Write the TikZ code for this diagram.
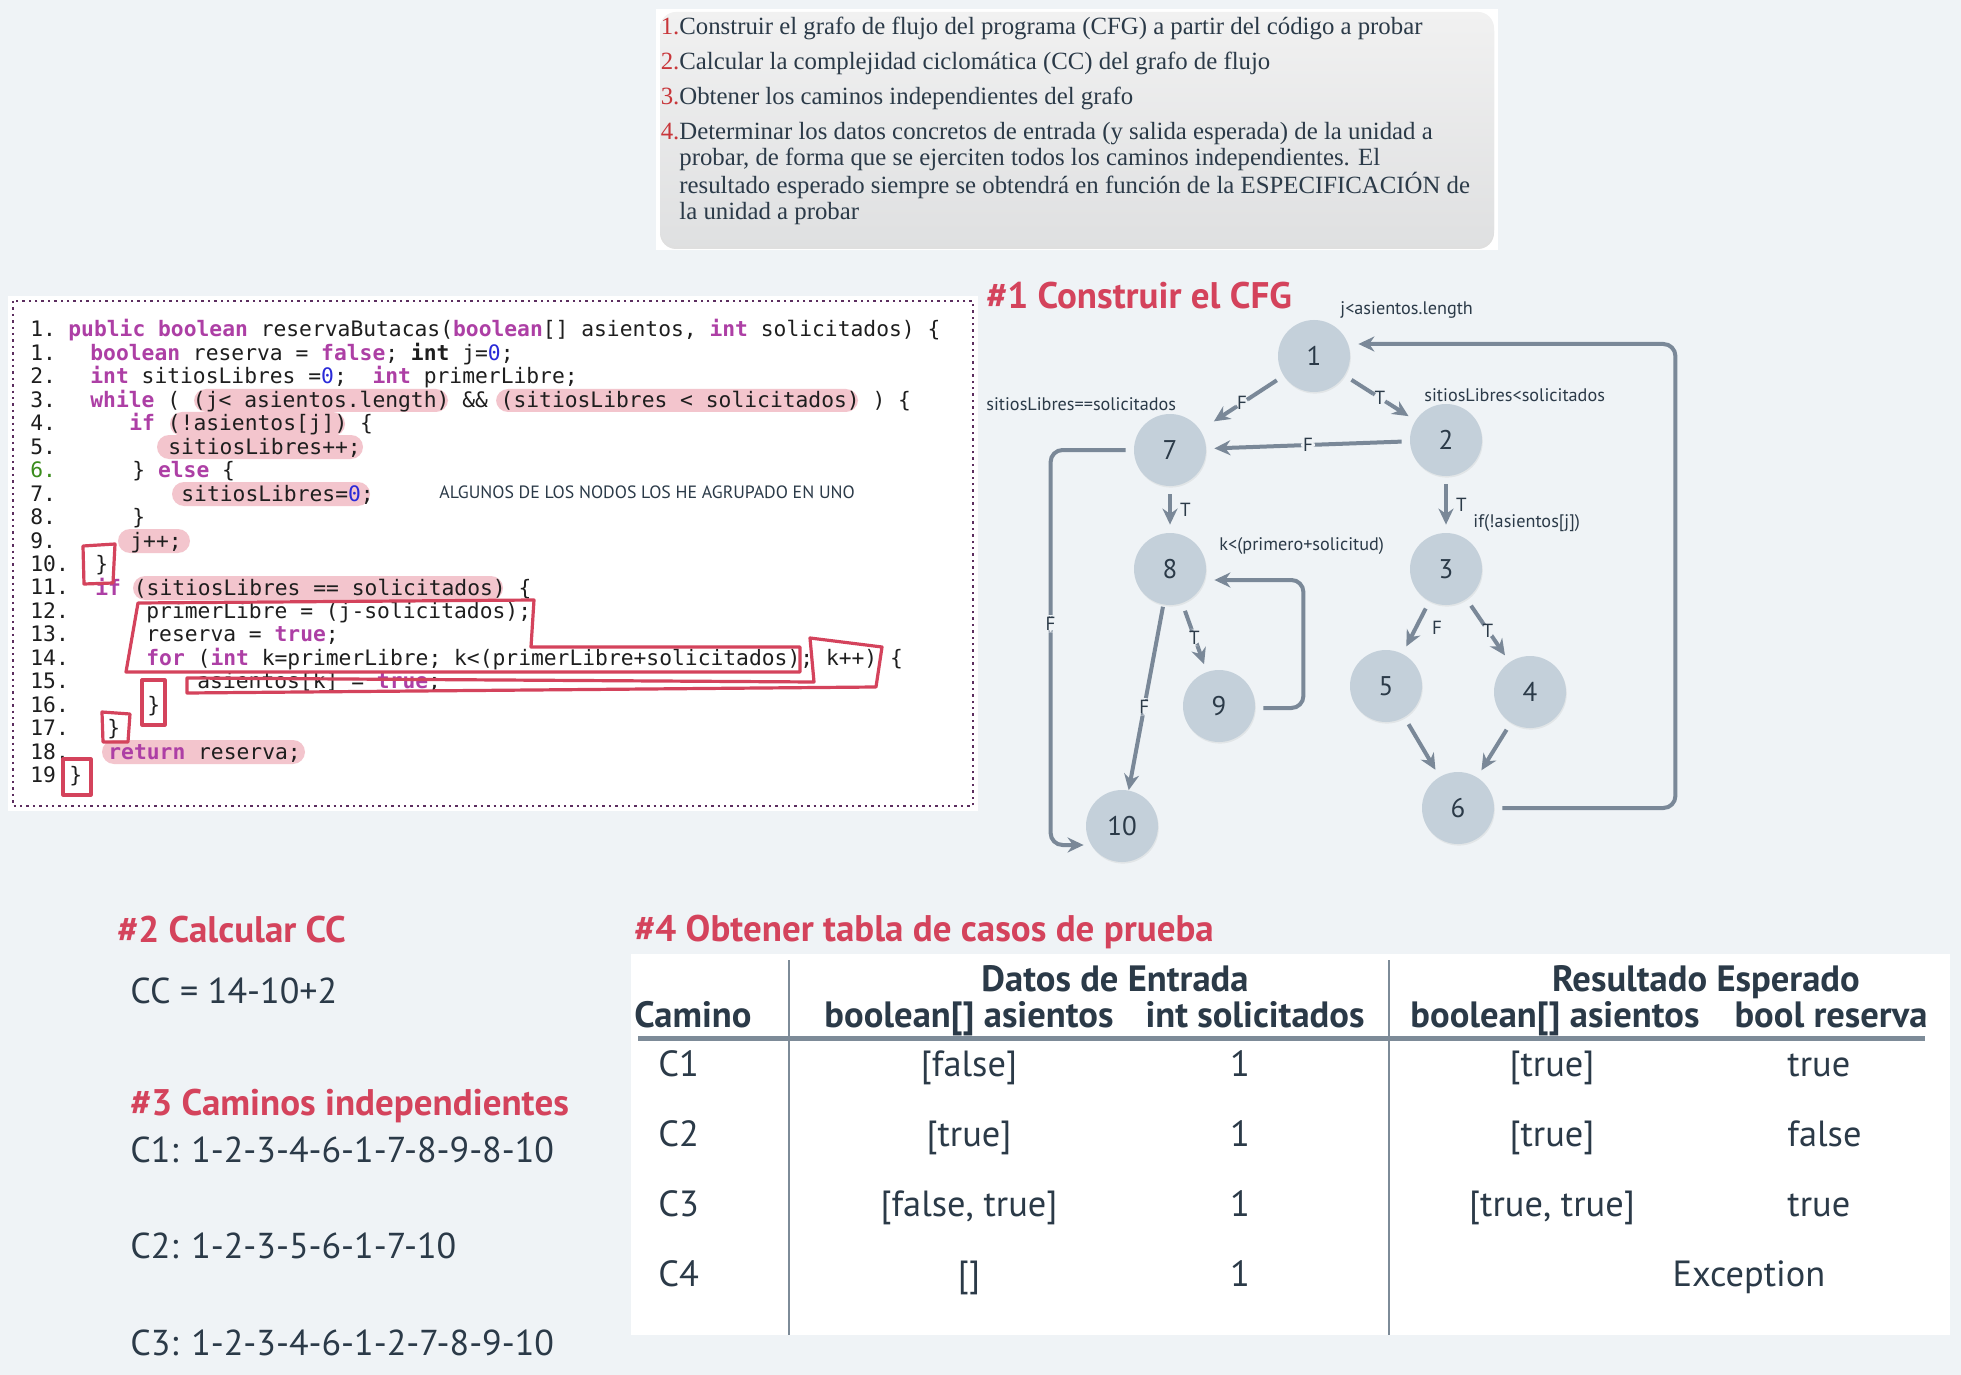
\documentclass[tikz,border=0pt]{standalone}
\usepackage{fontspec}
\setmainfont{Liberation Serif}
\setmonofont{DejaVu Sans Mono}
\newfontfamily\dinfont{PT Sans}
\usetikzlibrary{arrows.meta, positioning, shadows}
\definecolor{Fondo}{HTML}{EFF3F6}
\definecolor{NodoGris}{HTML}{C4D0DA}
\definecolor{Arista}{HTML}{7A8898}
\definecolor{Tinta}{HTML}{2B3A48}
\definecolor{Rojo}{HTML}{D4435C}
\definecolor{Resalte}{HTML}{F3C5CD}
\definecolor{Morado}{HTML}{AD3FA5}
\definecolor{AzulNum}{HTML}{2A2AD8}
\definecolor{VerdeNum}{HTML}{3A8C1C}
\definecolor{CodNegro}{HTML}{1E1E1E}
\definecolor{Punteado}{HTML}{5B2D5E}
\definecolor{Reja}{HTML}{7D8B98}
\definecolor{PasoNum}{HTML}{C8363A}
\definecolor{GrisClaro}{HTML}{F1F1F1}
\definecolor{GrisOscuro}{HTML}{DFE0E1}
\newcommand{\kw}[1]{\textcolor{Morado}{\bfseries #1}}
\newcommand{\codnum}[1]{\textcolor{AzulNum}{#1}}
\newcommand{\pasonum}[1]{\llap{\textcolor{PasoNum}{#1}}}

\begin{document}
\begin{tikzpicture}[
  x=0.5pt, y=-0.5pt,
  nodo/.style={circle, fill=NodoGris, minimum size=36pt, inner sep=0pt, text=Tinta,
              font=\dinfont\fontsize{13.5}{14}\selectfont,
              drop shadow={opacity=0.12, shadow xshift=0.4pt, shadow yshift=-0.8pt}},
  flecha/.style={draw=Arista, line width=2pt, -{Stealth[length=8pt, width=7.5pt]},
              shorten <=4pt, shorten >=4pt, rounded corners=6pt},
  etq/.style={font=\dinfont\fontsize{9.5}{10}\selectfont, text=Tinta, fill=Fondo, inner sep=1pt},
  cond/.style={font=\dinfont\fontsize{9.1}{10}\selectfont, text=Tinta, anchor=west, inner sep=0pt},
  codigo/.style={font=\ttfamily\fontsize{10.65}{12}\selectfont, text=CodNegro, anchor=base west, inner sep=0pt},
  marca/.style={fill=Resalte, rounded corners=6pt},
  trazo/.style={draw=Rojo, line width=1.6pt, line join=round},
  titulo/.style={font=\dinfont\bfseries\fontsize{18.5}{19}\selectfont, text=Rojo, anchor=base west, inner sep=0pt},
  texto/.style={font=\dinfont\fontsize{18}{18}\selectfont, text=Tinta, anchor=base west, inner sep=0pt},
  celda/.style={font=\dinfont\fontsize{18.2}{18}\selectfont, text=Tinta, anchor=base, inner sep=0pt},
  cabecera/.style={celda, font=\dinfont\bfseries\fontsize{18.3}{18}\selectfont},
  paso/.style={font=\rmfamily\fontsize{12.4}{13}\selectfont, text=Tinta, anchor=base west, inner sep=0pt, align=left},
  cajapasos/.style={rounded corners=8pt, minimum width=417pt, minimum height=117pt,
              top color=GrisClaro, bottom color=GrisOscuro,
              drop shadow={opacity=0.25, shadow xshift=0pt, shadow yshift=-1.5pt}}]
\useasboundingbox (0,0) rectangle (1961,1375);
\fill[Fondo] (0,0) rectangle (1961,1375);

% pasos
\fill[white] (656,9) rectangle (1498,250);
\node[cajapasos] (pasos) at (1077,129) {};
\node[paso] (p1) at (679,35) {\pasonum{1.}Construir el grafo de flujo del programa (CFG) a partir del código a probar};
\node[paso] (p2) at (679,70) {\pasonum{2.}Calcular la complejidad ciclomática (CC) del grafo de flujo};
\node[paso] (p3) at (679,105) {\pasonum{3.}Obtener los caminos independientes del grafo};
% base = ultima linea
\node[paso] (p4) at (679,220) {\pasonum{4.}Determinar los datos concretos de entrada (y salida esperada) de la unidad a\\
  probar, de forma que se ejerciten todos los caminos independientes. El\\
  resultado esperado siempre se obtendrá en función de la ESPECIFICACIÓN de\\
  la unidad a probar};

% codigo
\fill[white] (8,296) rectangle (978,811);
\draw[Punteado, dotted, line width=1.2pt] (13,301) rectangle (973,806);
\fill[marca] (194,389) rectangle (448,412);
\fill[marca] (496,389) rectangle (858,412);
\fill[marca] (170,412) rectangle (345,436);
\fill[marca] (157,435) rectangle (363,459);
\fill[marca] (172,482) rectangle (370,506);
\fill[marca] (118,529) rectangle (190,553);
\fill[marca] (133,576) rectangle (503,600);
\fill[marca] (102,740) rectangle (305,764);
\foreach \n [count=\i from 0] in {1,1,2,3,4,5,6,7,8,9,10,11,12,13,14,15,16,17,18,19}
  \node[codigo] (ln\i) at (30,337+23.45*\i) {\ifnum\n=6 \textcolor{VerdeNum}{\n.}\else\n.\fi};
\node[codigo] (c0) at (68,337) {\kw{public} \kw{boolean} reservaButacas(\kw{boolean}[] asientos, \kw{int} solicitados) \{};
\node[codigo] (c1) at (90,360.5) {\kw{boolean} reserva = \kw{false}; \textbf{int} j=\codnum{0};};
\node[codigo] (c2) at (90,383.9) {\kw{int} sitiosLibres =\codnum{0};~ \kw{int} primerLibre;};
\node[codigo] (c3) at (90,407.4) {\kw{while} ( (j< asientos.length) \&\& (sitiosLibres < solicitados) ) \{};
\node[codigo] (c4) at (129,430.8) {\kw{if} (!asientos[j]) \{};
\node[codigo] (c5) at (168,454.3) {sitiosLibres++;};
\node[codigo] (c6) at (132,477.7) {\} \kw{else} \{};
\node[codigo] (c7) at (181,501.2) {sitiosLibres=\codnum{0};};
\node[codigo] (c8) at (132,524.6) {\}};
\node[codigo] (c9) at (130,548.1) {j++;};
\node[codigo] (c10) at (95,571.5) {\}};
\node[codigo] (c11) at (95,595) {\kw{if} (sitiosLibres == solicitados) \{};
\node[codigo] (c12) at (146,618.4) {primerLibre = (j-solicitados);};
\node[codigo] (c13) at (146,641.9) {reserva = \kw{true};};
\node[codigo] (c14) at (146,665.3) {\kw{for} (\kw{int} k=primerLibre; k<(primerLibre+solicitados); k++) \{};
\node[codigo] (c15) at (197,688.8) {asientos[k] = \kw{true};};
\node[codigo] (c16) at (147,712.2) {\}};
\node[codigo] (c17) at (107,735.7) {\}};
\node[codigo] (c18) at (108,759.1) {\kw{return} reserva;};
\node[codigo] (c19) at (69,782.6) {\}};
\draw[trazo] (83,546) -- (115,544) -- (113,583) -- (84,584) -- cycle;
\draw[trazo] (138,603) -- (534,600) -- (531,647) -- (800,647) -- (800,672) -- (126,672) -- cycle;
\draw[trazo] (810,638) -- (882,647) -- (876,687) -- (187,693) -- (187,678) -- (814,682) -- cycle;
\draw[trazo] (142,680) rectangle (165,725);
\draw[trazo] (102,712) -- (130,714) -- (128,742) -- (103,742) -- cycle;
\draw[trazo] (63,759) rectangle (91,795);
\node[font=\dinfont\fontsize{8.9}{9}\selectfont, text=Tinta, anchor=west, inner sep=0pt] (nota) at (439,492)
  {ALGUNOS DE LOS NODOS LOS HE AGRUPADO EN UNO};

% #1 CFG
\node[titulo] (t1) at (986,309) {\#1 Construir el CFG};
\node[nodo] (n1) at (1314,356) {1};
\node[nodo] (n2) at (1446,440) {2};
\node[nodo] (n7) at (1170,450) {7};
\node[nodo] (n8) at (1170,569) {8};
\node[nodo] (n3) at (1446,569) {3};
\node[nodo] (n9) at (1219,706) {9};
\node[nodo] (n5) at (1386,686) {5};
\node[nodo] (n4) at (1530,692) {4};
\node[nodo] (n6) at (1458,808) {6};
\node[nodo] (n10) at (1122,826) {10};
\node[cond] (k1) at (1340,310) {j<asientos.length};
\node[cond] (k7) at (986,404) {sitiosLibres==solicitados};
\node[cond] (k2) at (1424,395) {sitiosLibres<solicitados};
\node[cond] (k3) at (1473,523) {if(!asientos[j])};
\node[cond] (k8) at (1219,546) {k<(primero+solicitud)};
\draw[flecha, shorten >=8pt] (n1) -- node[etq]{F} (n7);
\draw[flecha] (n1) -- node[etq]{T} (n2);
\draw[flecha] (n2) -- node[etq]{F} (n7);
\draw[flecha] (n7) -- node[etq, fill=none, right=3pt]{T} (n8);
\draw[flecha] (n2) -- node[etq, fill=none, right=3pt]{T} (n3);
\draw[flecha] (n8) -- node[etq]{T} (n9);
\draw[flecha, shorten >=0pt, shorten <=1pt] (n8) -- node[etq, pos=0.55]{F} (n10);
\draw[flecha] ([yshift=-1pt]n9.east) -- ++(48,0) |- ([yshift=-5.5pt]n8.east);
\draw[flecha, shorten >=1pt] (n7.west) -- ++(-83,0) |- node[etq, pos=0.22]{F} ([yshift=-9.5pt]n10.west);
\draw[flecha] (n3) -- node[etq, fill=none, right=6pt]{F} (n5);
\draw[flecha] (n3) -- node[etq]{T} (n4);
\draw[flecha] (n5) -- (n6);
\draw[flecha] (n4) -- (n6);
\draw[flecha] (n6.east) -- ++(181,0) |- ([yshift=6pt]n1.east);

% #2 y #3
\node[titulo] (t2) at (117,942) {\#2 Calcular CC};
\node[texto] (cc) at (130,1003) {CC = 14-10+2};
\node[titulo] (t3) at (130,1115) {\#3 Caminos independientes};
\node[texto] (cam1) at (130,1162) {C1: 1-2-3-4-6-1-7-8-9-8-10};
\node[texto] (cam2) at (130,1258) {C2: 1-2-3-5-6-1-7-10};
\node[texto] (cam3) at (130,1355) {C3: 1-2-3-4-6-1-2-7-8-9-10};

% #4 tabla
\node[titulo] (t4) at (634,941) {\#4 Obtener tabla de casos de prueba};
\fill[white] (631,954) rectangle (1950,1335);
\draw[Reja, line width=1.3pt] (789,960) -- (789,1335);
\draw[Reja, line width=1.3pt] (1389,960) -- (1389,1335);
\draw[Reja, line width=2.5pt] (638,1038) -- (1925,1038);
\node[cabecera] (hdat) at (1115,991) {Datos de Entrada};
\node[cabecera] (hres) at (1706,991) {Resultado Esperado};
\node[cabecera, anchor=base west] (hcam) at (634,1027) {Camino};
\node[cabecera] (hasi) at (969,1027) {boolean[] asientos};
\node[cabecera] (hsol) at (1255,1027) {int solicitados};
\node[cabecera] (hasr) at (1555,1027) {boolean[] asientos};
\node[cabecera] (hbool) at (1831,1027) {bool reserva};
\node[celda, anchor=base west] (r1) at (658,1076) {C1};
\node[celda] (r1a) at (969,1076) {[false]};
\node[celda] (r1b) at (1240,1076) {1};
\node[celda] (r1c) at (1552,1076) {[true]};
\node[celda, anchor=base west] (r1d) at (1787,1076) {true};
\node[celda, anchor=base west] (r2) at (658,1146) {C2};
\node[celda] (r2a) at (969,1146) {[true]};
\node[celda] (r2b) at (1240,1146) {1};
\node[celda] (r2c) at (1552,1146) {[true]};
\node[celda, anchor=base west] (r2d) at (1787,1146) {false};
\node[celda, anchor=base west] (r3) at (658,1216) {C3};
\node[celda] (r3a) at (969,1216) {[false, true]};
\node[celda] (r3b) at (1240,1216) {1};
\node[celda] (r3c) at (1552,1216) {[true, true]};
\node[celda, anchor=base west] (r3d) at (1787,1216) {true};
\node[celda, anchor=base west] (r4) at (658,1286) {C4};
\node[celda] (r4a) at (969,1286) {[]};
\node[celda] (r4b) at (1240,1286) {1};
\node[celda] (r4c) at (1749,1286) {Exception};
\end{tikzpicture}
\end{document}
